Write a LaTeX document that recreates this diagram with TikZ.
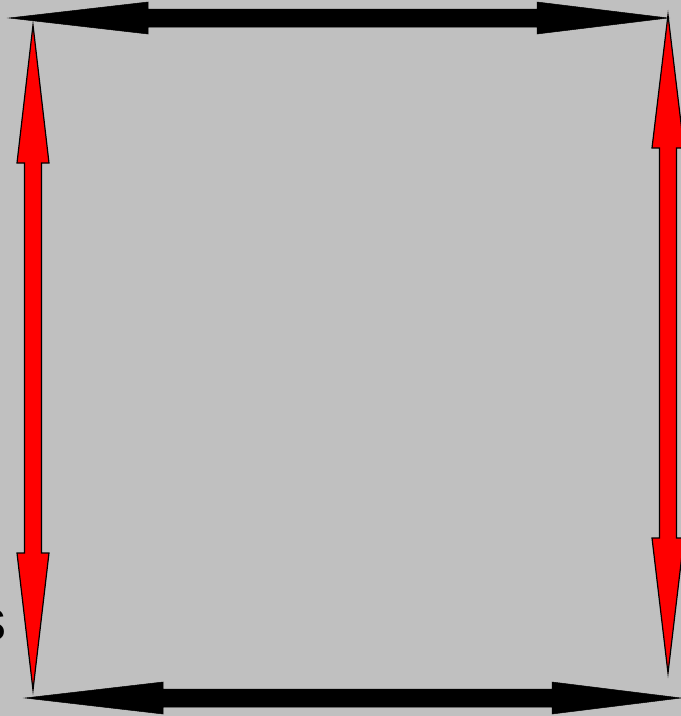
\documentclass[tikz,border=0pt]{standalone}
\usepackage{fontspec}
\setmainfont{Liberation Sans}
\definecolor{bg}{RGB}{192,192,192}
\tikzset{
  blackarrow/.style={fill=black, draw=black, line width=0.5pt},
  redarrow/.style={fill=red, draw=black, line width=1.2pt, line join=miter},
}
\begin{document}
\begin{tikzpicture}[x=1pt,y=-1pt]
\useasboundingbox (0,0) rectangle (681,716);
\fill[bg] (0,0) rectangle (681,716);
% top black double arrow
\draw[blackarrow] (9,18) -- (148,2) -- (148,9) -- (537,9) -- (537,2) -- (668,18)
  -- (537,34) -- (537,27) -- (148,27) -- (148,34) -- cycle;
% bottom black double arrow
\draw[blackarrow] (25,698) -- (163,682) -- (163,689) -- (552,689) -- (552,682) -- (681,698)
  -- (552,714) -- (552,707) -- (163,707) -- (163,714) -- cycle;
% left red double arrow
\draw[redarrow] (33,25) -- (49,163) -- (41.5,163) -- (41.5,553) -- (49,553) -- (33,690)
  -- (17,553) -- (24.5,553) -- (24.5,163) -- (17,163) -- cycle;
% right red double arrow
\draw[redarrow] (668,15) -- (684,148) -- (676.5,148) -- (676.5,538) -- (684,538) -- (668,673)
  -- (652,538) -- (659.5,538) -- (659.5,148) -- (652,148) -- cycle;
% partial text at left edge
\node[anchor=base east, inner sep=0pt, font=\fontsize{58}{60}\selectfont] (s) at (7,640) {s};
\end{tikzpicture}
\end{document}
